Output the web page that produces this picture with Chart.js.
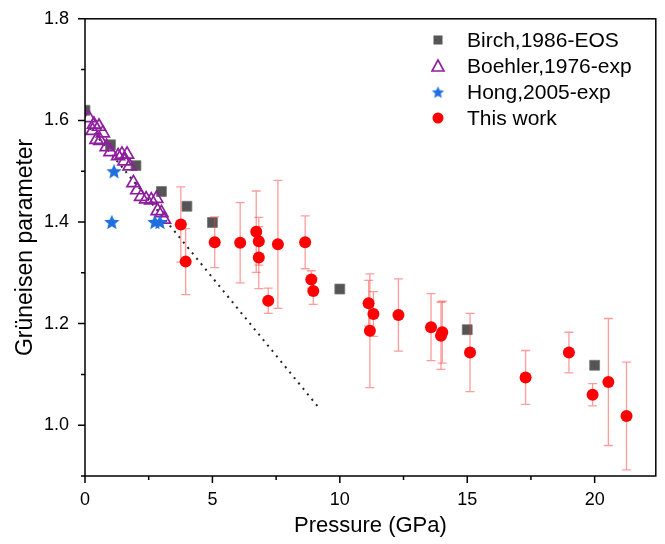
<!DOCTYPE html>
<html>
<head>
<meta charset="utf-8">
<script src="https://cdn.jsdelivr.net/npm/chart.js@4.4.0/dist/chart.umd.min.js"></script>
<style>
  html, body { margin: 0; padding: 0; background: #fff; }
  #wrap { width: 665px; height: 544px; }
</style>
</head>
<body>
<div id="wrap"><canvas id="chart"></canvas></div>
<script>
// Birch 1986 EOS
const birchP = [0, 1, 2, 3, 4, 5, 10, 15, 20];
const birchG = [1.62, 1.552, 1.511, 1.46, 1.431, 1.399, 1.268, 1.188, 1.118];

// Boehler 1976 exp
const boehlerP = [0.15, 0.3, 0.35, 0.45, 0.55, 0.6, 0.7, 0.85, 1.0, 1.3, 1.45, 1.55, 1.65, 1.75, 1.9, 2.05, 2.2, 2.4, 2.6, 2.8, 2.85, 3.0, 3.1];
const boehlerG = [1.605, 1.58, 1.592, 1.562, 1.588, 1.56, 1.575, 1.548, 1.538, 1.53, 1.533, 1.52, 1.533, 1.51, 1.477, 1.463, 1.45, 1.445, 1.443, 1.446, 1.422, 1.418, 1.405];

// Hong 2005 exp
const hongP = [1.05, 1.14, 2.74, 2.94];
const hongG = [1.40, 1.50, 1.40, 1.40];

// this work, with error bars
const workP = [3.76, 3.95, 5.09, 6.09, 6.72, 6.82, 6.82, 7.19, 7.57, 8.64, 8.88, 8.96, 11.13, 11.32, 11.18, 12.3, 13.58, 14.02, 13.97, 15.11, 17.29, 18.99, 19.92, 20.54, 21.25];
const workG = [1.395, 1.322, 1.36, 1.359, 1.381, 1.362, 1.33, 1.245, 1.356, 1.36, 1.287, 1.264, 1.24, 1.219, 1.186, 1.217, 1.193, 1.183, 1.176, 1.143, 1.094, 1.143, 1.06, 1.085, 1.018];
const workErr = [0.074, 0.065, 0.05, 0.079, 0.08, 0.047, 0.061, 0.025, 0.126, 0.052, 0.017, 0.026, 0.045, 0.044, 0.112, 0.071, 0.066, 0.061, 0.066, 0.077, 0.053, 0.04, 0.022, 0.125, 0.106];

// dotted guide line
const guideP = [0.2, 9.15];
const guideG = [1.585, 1.036];

const xTicks = [0, 5, 10, 15, 20];
const yTicks = [1.0, 1.2, 1.4, 1.6, 1.8];

Chart.defaults.font.family = "'Liberation Sans', Arial, sans-serif";
Chart.defaults.color = '#000';

function pts(xs, ys) {
  return xs.map((x, i) => ({ x: x, y: ys[i] }));
}

function makeStar(r, color) {
  const c = document.createElement('canvas');
  const s = Math.ceil(r * 2 + 2);
  c.width = s; c.height = s;
  const g = c.getContext('2d');
  g.fillStyle = color;
  g.beginPath();
  for (let i = 0; i < 10; i++) {
    const rr = i % 2 === 0 ? r : r * 0.45;
    const a = -Math.PI / 2 + i * Math.PI / 5;
    g.lineTo(s / 2 + rr * Math.cos(a), s / 2 + rr * Math.sin(a) + 0.7);
  }
  g.closePath();
  g.fill();
  return c;
}

const starBig = makeStar(8, '#1f6fe0');
const starSmall = makeStar(6.5, '#1f6fe0');

const errorBars = {
  id: 'errorBars',
  beforeDatasetDraw(chart, args) {
    if (args.index !== 4) return;
    const ctx = chart.ctx, x = chart.scales.x, y = chart.scales.y;
    ctx.save();
    ctx.strokeStyle = 'rgba(255, 60, 60, 0.5)';
    ctx.lineWidth = 1.3;
    workP.forEach((p, i) => {
      const px = x.getPixelForValue(p);
      const top = y.getPixelForValue(workG[i] + workErr[i]);
      const bot = y.getPixelForValue(workG[i] - workErr[i]);
      ctx.beginPath();
      ctx.moveTo(px, top); ctx.lineTo(px, bot);
      ctx.moveTo(px - 4.5, top); ctx.lineTo(px + 4.5, top);
      ctx.moveTo(px - 4.5, bot); ctx.lineTo(px + 4.5, bot);
      ctx.stroke();
    });
    ctx.restore();
  }
};

const frame = {
  id: 'frame',
  afterDraw(chart) {
    const ctx = chart.ctx, a = chart.chartArea;
    const x = chart.scales.x, y = chart.scales.y;
    ctx.save();
    ctx.strokeStyle = '#000';
    ctx.lineWidth = 1.5;
    ctx.strokeRect(a.left, a.top, a.right - a.left, a.bottom - a.top);
    ctx.beginPath();
    x.ticks.forEach(t => {
      const px = x.getPixelForValue(t.value);
      const len = t.value % 5 === 0 ? 7 : 4;
      ctx.moveTo(px, a.bottom); ctx.lineTo(px, a.bottom + len);
    });
    y.ticks.forEach(t => {
      const py = y.getPixelForValue(t.value);
      const major = Math.round(t.value * 10) % 2 === 0;
      ctx.moveTo(a.left, py); ctx.lineTo(a.left - (major ? 7 : 4), py);
    });
    ctx.moveTo(a.left - 4, a.bottom); ctx.lineTo(a.left, a.bottom);
    ctx.stroke();

    // legend
    const lx = 438, tx = 467;
    const rows = [40, 66, 92, 118];
    ctx.font = "21px 'Liberation Sans', Arial, sans-serif";
    ctx.fillStyle = '#000';
    ctx.textBaseline = 'middle';
    ctx.textAlign = 'left';
    chart.data.datasets.slice(1).forEach((ds, i) => {
      ctx.fillText(ds.label, tx, rows[i] + 1);
    });
    ctx.fillStyle = '#555';
    ctx.fillRect(lx - 4.5, rows[0] - 4.5, 9, 9);
    ctx.strokeStyle = '#8e1e9e';
    ctx.lineWidth = 1.6;
    ctx.beginPath();
    ctx.moveTo(lx, rows[1] - 6); ctx.lineTo(lx + 6, rows[1] + 5); ctx.lineTo(lx - 6, rows[1] + 5);
    ctx.closePath(); ctx.stroke();
    ctx.drawImage(starSmall, lx - starSmall.width / 2, rows[2] - starSmall.height / 2);
    ctx.fillStyle = '#ff0000';
    ctx.beginPath(); ctx.arc(lx, rows[3], 5.5, 0, Math.PI * 2); ctx.fill();
    ctx.restore();
  }
};

new Chart(document.getElementById('chart'), {
  type: 'scatter',
  plugins: [errorBars, frame],
  data: {
    datasets: [
      {
        label: 'guide',
        type: 'line',
        data: pts(guideP, guideG),
        borderColor: '#222',
        borderWidth: 2,
        borderDash: [2, 5],
        pointRadius: 0,
        fill: false,
        order: 5
      },
      {
        label: 'Birch,1986-EOS',
        data: pts(birchP, birchG),
        pointStyle: 'rect',
        pointRadius: 7,
        backgroundColor: '#555',
        borderColor: '#777',
        borderWidth: 0.8,
        order: 4
      },
      {
        label: 'Boehler,1976-exp',
        data: pts(boehlerP, boehlerG),
        pointStyle: 'triangle',
        pointRadius: 7.5,
        backgroundColor: 'rgba(0,0,0,0)',
        borderColor: '#8e1e9e',
        borderWidth: 1.7,
        order: 3
      },
      {
        label: 'Hong,2005-exp',
        data: pts(hongP, hongG),
        pointStyle: starBig,
        order: 2
      },
      {
        label: 'This work',
        data: pts(workP, workG),
        pointStyle: 'circle',
        pointRadius: 6,
        backgroundColor: '#ff0000',
        borderColor: '#ff0000',
        borderWidth: 0,
        order: 1
      }
    ]
  },
  options: {
    responsive: true,
    maintainAspectRatio: false,
    animation: false,
    layout: { padding: { top: 15, right: 7, left: 0, bottom: 0 } },
    plugins: {
      legend: { display: false },
      tooltip: { enabled: false }
    },
    scales: {
      x: {
        type: 'linear',
        min: 0,
        max: 22.4,
        border: { display: false },
        grid: { display: false },
        ticks: {
          stepSize: 2.5,
          includeBounds: false,
          padding: 5,
          font: { size: 18 },
          callback: v => xTicks.includes(v) ? String(v) : ''
        },
        title: {
          display: true,
          text: 'Pressure (GPa)',
          font: { size: 22 },
          padding: { top: 4, bottom: 5 }
        },
        afterFit(s) { s.height = 68; }
      },
      y: {
        type: 'linear',
        min: 0.9,
        max: 1.8,
        border: { display: false },
        grid: { display: false },
        ticks: {
          stepSize: 0.1,
          includeBounds: false,
          padding: 8,
          font: { size: 18 },
          callback: v => yTicks.some(t => Math.abs(t - v) < 1e-6) ? v.toFixed(1) : ''
        },
        title: {
          display: true,
          text: 'Grüneisen parameter',
          font: { size: 23 },
          padding: { top: 12, bottom: 0 }
        },
        afterFit(s) { s.width = 85; }
      }
    }
  }
});
</script>
</body>
</html>
